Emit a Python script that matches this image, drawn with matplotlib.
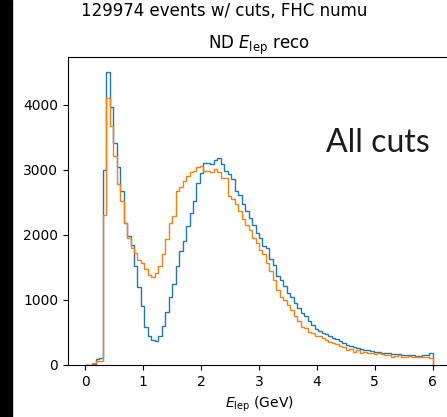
import numpy as np
import matplotlib
matplotlib.use("Agg")
import matplotlib.pyplot as plt
from matplotlib.patches import Rectangle

# 100 bins from 0 to 6 GeV
edges = np.linspace(0, 6, 101)

# counts per bin
no_cut = [0, 0, 20, 90, 100, 3000, 4510, 3960, 3410, 3050,
          2670, 2190, 1990, 1850, 1520, 1200, 900, 590, 450, 380,
          370, 450, 600, 820, 1050, 1250, 1520, 1750, 1900, 2130,
          2340, 2520, 2800, 2950, 3100, 3110, 3090, 3150, 3190, 3090,
          2980, 2930, 2860, 2680, 2620, 2470, 2370, 2260, 2160, 2030,
          1950, 1830, 1800, 1630, 1540, 1370, 1310, 1210, 1110, 1050,
          950, 880, 800, 750, 670, 620, 560, 520, 490, 470,
          440, 410, 400, 370, 340, 310, 290, 270, 255, 240,
          230, 225, 215, 205, 195, 190, 180, 180, 170, 170,
          165, 160, 155, 150, 150, 140, 145, 150, 150, 180]

all_cuts = [0, 0, 30, 60, 65, 2300, 4100, 3680, 3210, 2780,
            2520, 2190, 1960, 1800, 1720, 1620, 1570, 1470, 1390, 1360,
            1410, 1520, 1700, 1930, 2190, 2290, 2680, 2730, 2830, 2900,
            2960, 2980, 3040, 3060, 2990, 2980, 2960, 3010, 2960, 2880,
            2880, 2600, 2550, 2470, 2370, 2240, 2160, 2080, 1960, 1880,
            1770, 1700, 1570, 1440, 1310, 1160, 1050, 1000, 930, 850,
            750, 670, 590, 570, 510, 490, 450, 440, 420, 390,
            360, 340, 325, 290, 280, 235, 250, 205, 230, 180,
            205, 180, 190, 170, 180, 165, 150, 155, 130, 140,
            150, 128, 118, 140, 128, 118, 128, 118, 118, 100]

fig = plt.figure(figsize=(4.47, 4.17), dpi=100)
ax = fig.add_axes([68/447, 1 - 365/417, (450 - 68)/447, (365 - 57)/417])

ax.hist(edges[:-1], bins=edges, weights=no_cut, histtype="step")
ax.hist(edges[:-1], bins=edges, weights=all_cuts, histtype="step")

ax.set_xticks([0, 1, 2, 3, 4, 5, 6])
ax.set_yticks([0, 1000, 2000, 3000, 4000])
ax.set_xlabel(r"$E_{\rm lep}$ (GeV)")
ax.set_title(r"ND $E_{\rm lep}$ reco")

fig.suptitle("129974 events w/ cuts, FHC numu", x=224/447, y=0.995)
fig.text(326/447, 1 - 152/417, "All cuts", fontsize=23, family="Lato",
         color="#1a1a1a")

# black strip on the left of the screenshot
fig.patches.append(Rectangle((0, 0), 12/447, 1, transform=fig.transFigure,
                             color="black", zorder=10))

fig.savefig("out.png", dpi=100)
